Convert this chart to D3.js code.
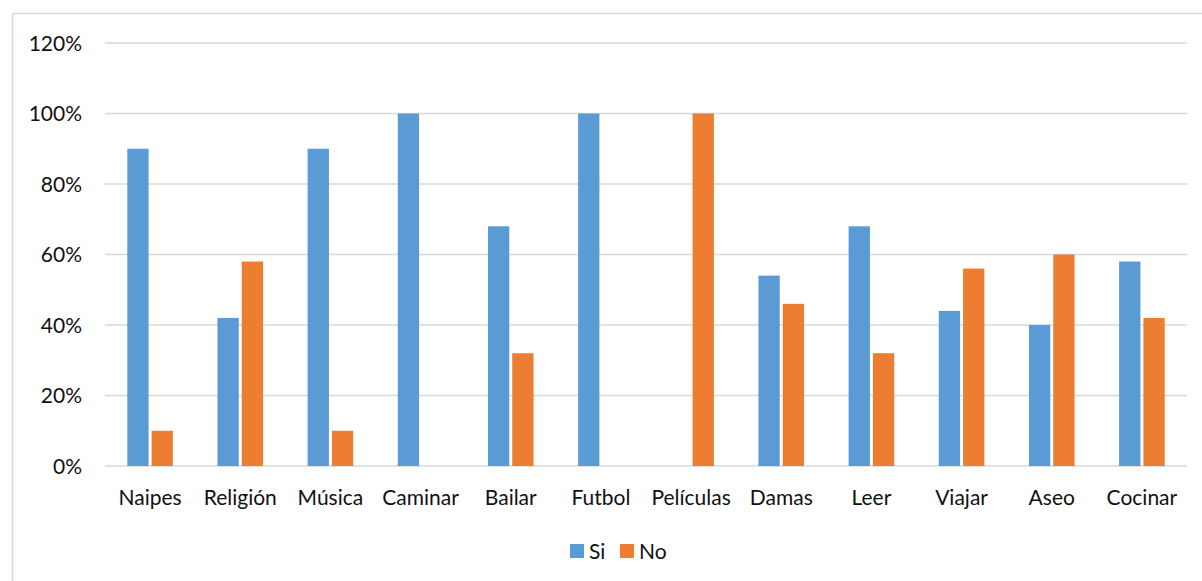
<!DOCTYPE html>
<html><head><meta charset="utf-8">
<script src="https://cdn.jsdelivr.net/npm/d3@7"></script>
<style>body{margin:0;background:#fff}svg{display:block}text{font-family:Lato,"Open Sans",sans-serif;fill:#111}</style>
</head><body>
<svg id="c" width="1202" height="581"></svg>
<script>
const categories = ["Naipes","Religión","Música","Caminar","Bailar","Futbol","Películas","Damas","Leer","Viajar","Aseo","Cocinar"];
const siValues = [90,42,90,100,68,100,0,54,68,44,40,58];
const noValues = [10,58,10,0,32,0,100,46,32,56,60,42];
const seriesNames = ["Si","No"];
const seriesColors = ["#5B9BD5","#ED7D31"];
const yTicks = [0,20,40,60,80,100,120];

const svg = d3.select("#c");
svg.append("rect").attr("x",12.5).attr("y",13.5).attr("width",1200).attr("height",600)
  .attr("fill","#fff").attr("stroke","#d9d9d9").attr("stroke-width",1.5);

const m = {l:105, r:1187, t:43, b:466};
const x = d3.scaleBand().domain(categories).range([m.l, m.r]);
const y = d3.scaleLinear().domain([0,120]).range([m.b, m.t]);

// gridlines
svg.append("g").selectAll("line").data(yTicks).join("line")
  .attr("x1",m.l).attr("x2",m.r).attr("y1",d=>y(d)).attr("y2",d=>y(d))
  .attr("stroke","#d9d9d9").attr("stroke-width",1.5);

// y labels
svg.append("g").selectAll("text").data(yTicks).join("text")
  .attr("x",82).attr("y",d=>y(d)).attr("dy","0.36em").attr("text-anchor","end")
  .attr("font-size",21).text(d=>d+"%");

const barW = 20, gap = 5.6;
const sub = d3.scaleBand().domain(seriesNames).range([-(barW+gap/2), barW+gap/2]).paddingInner(gap/(2*barW+gap));
const series = [siValues, noValues];
series.forEach((vals,si)=>{
  svg.append("g").selectAll("rect").data(vals.map((v,i)=>({c:categories[i],v}))).join("rect")
    .attr("x",d=>x(d.c)+x.bandwidth()/2+sub(seriesNames[si]))
    .attr("width",sub.bandwidth())
    .attr("y",d=>y(d.v)).attr("height",d=>y(0)-y(d.v))
    .attr("fill",seriesColors[si]);
});

// x labels
svg.append("g").selectAll("text").data(categories).join("text")
  .attr("x",d=>x(d)+x.bandwidth()/2).attr("y",497).attr("dy","0.36em")
  .attr("text-anchor","middle").attr("font-size",21).text(d=>d);

// legend
const lg = svg.append("g");
const legX = [570, 620];
seriesNames.forEach((n,i)=>{
  lg.append("rect").attr("x",legX[i]).attr("y",544).attr("width",14).attr("height",14).attr("fill",seriesColors[i]);
  lg.append("text").attr("x",legX[i]+19).attr("y",551).attr("dy","0.36em").attr("font-size",21).text(n);
});
</script>
</body></html>
